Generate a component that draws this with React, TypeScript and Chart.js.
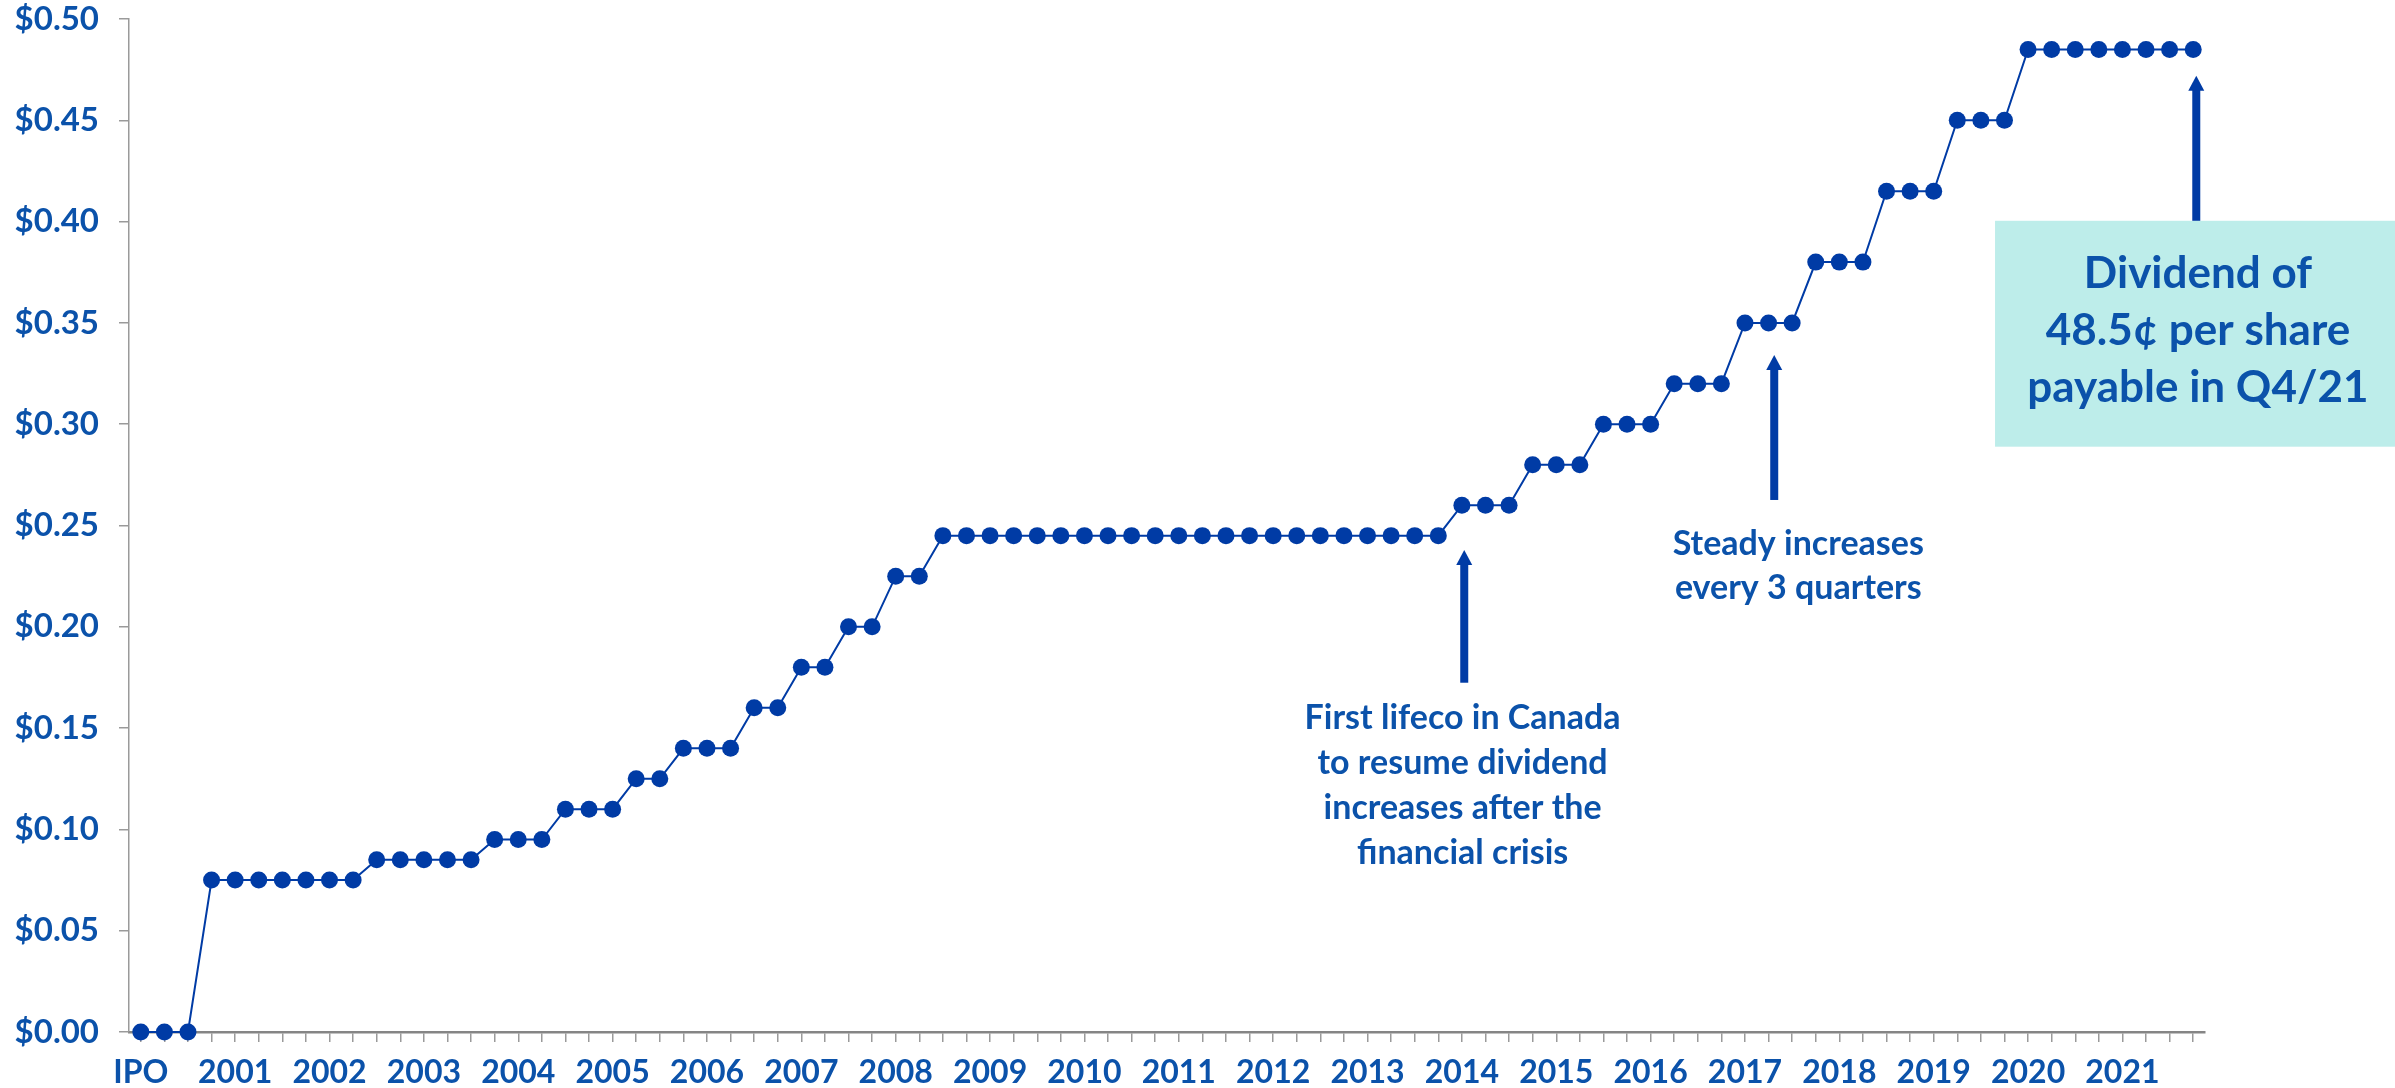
import React, { useEffect, useRef } from "react";
import { Chart, registerables } from "chart.js";

Chart.register(...registerables);

// ---- data ----
const yearLabels = [
  "IPO", "2001", "2002", "2003", "2004", "2005", "2006", "2007", "2008", "2009", "2010",
  "2011", "2012", "2013", "2014", "2015", "2016", "2017", "2018", "2019", "2020", "2021",
];

// quarterly dividend per share (88 quarters)
const dividends = [
  0, 0, 0,
  0.075, 0.075, 0.075, 0.075, 0.075, 0.075, 0.075,
  0.085, 0.085, 0.085, 0.085, 0.085,
  0.095, 0.095, 0.095,
  0.11, 0.11, 0.11,
  0.125, 0.125,
  0.14, 0.14, 0.14,
  0.16, 0.16,
  0.18, 0.18,
  0.2, 0.2,
  0.225, 0.225,
  0.245, 0.245, 0.245, 0.245, 0.245, 0.245, 0.245, 0.245, 0.245, 0.245, 0.245,
  0.245, 0.245, 0.245, 0.245, 0.245, 0.245, 0.245, 0.245, 0.245, 0.245, 0.245,
  0.26, 0.26, 0.26,
  0.28, 0.28, 0.28,
  0.3, 0.3, 0.3,
  0.32, 0.32, 0.32,
  0.35, 0.35, 0.35,
  0.38, 0.38, 0.38,
  0.415, 0.415, 0.415,
  0.45, 0.45, 0.45,
  0.485, 0.485, 0.485, 0.485, 0.485, 0.485, 0.485, 0.485,
];

const categories = dividends.map((_, i) => (i % 4 === 0 ? yearLabels[i / 4] : ""));

const yMin = 0;
const yMax = 0.5;
const yStep = 0.05;

const note1Lines = ["First lifeco in Canada", "to resume dividend", "increases after the", "financial crisis"];
const note2Lines = ["Steady increases", "every 3 quarters"];
const boxLines = ["Dividend of", "48.5¢ per share", "payable in Q4/21"];

// ---- styles ----
const FONT = "Lato, 'Open Sans', sans-serif";
const TEXT_BLUE = "#0B52AA";
const MARK_BLUE = "#003BA5";
const AXIS_GREY = "#9a9a9a";
const BOX_FILL = "#BDEDEA";

function drawArrow(ctx: CanvasRenderingContext2D, x: number, tipY: number, bottomY: number) {
  const headH = 15;
  const headW = 16;
  const shaftW = 8;
  ctx.fillStyle = MARK_BLUE;
  ctx.fillRect(x - shaftW / 2, tipY + headH - 1, shaftW, bottomY - (tipY + headH - 1));
  ctx.beginPath();
  ctx.moveTo(x, tipY);
  ctx.lineTo(x + headW / 2, tipY + headH);
  ctx.lineTo(x - headW / 2, tipY + headH);
  ctx.closePath();
  ctx.fill();
}

const annotationPlugin = {
  id: "annotations",
  afterDraw(chart: any) {
    const { ctx, scales } = chart;
    const x = scales.x;
    const y = scales.y;
    ctx.save();

    // callout box
    const boxLeft = x.getPixelForValue(78.6);
    const boxTop = y.getPixelForValue(0.4004);
    const boxBottom = y.getPixelForValue(0.2889);
    ctx.fillStyle = BOX_FILL;
    ctx.fillRect(boxLeft, boxTop, chart.width - boxLeft, boxBottom - boxTop);

    // arrows
    drawArrow(ctx, x.getPixelForValue(56.1), y.getPixelForValue(0.2379), y.getPixelForValue(0.1724));
    drawArrow(ctx, x.getPixelForValue(69.24), y.getPixelForValue(0.3342), y.getPixelForValue(0.2626));
    drawArrow(ctx, x.getPixelForValue(87.13), y.getPixelForValue(0.472), boxTop);

    ctx.fillStyle = TEXT_BLUE;
    ctx.textAlign = "center";
    ctx.textBaseline = "alphabetic";

    ctx.font = `bold 34px ${FONT}`;
    const n1x = x.getPixelForValue(56.03);
    const n1y = y.getPixelForValue(0.1495);
    note1Lines.forEach((t, i) => ctx.fillText(t, n1x, n1y + i * 45));

    const n2x = x.getPixelForValue(70.26);
    const n2y = y.getPixelForValue(0.2355);
    note2Lines.forEach((t, i) => ctx.fillText(t, n2x, n2y + i * 44));

    ctx.font = `bold 44px ${FONT}`;
    const bx = x.getPixelForValue(87.2);
    const by = y.getPixelForValue(0.3671);
    boxLines.forEach((t, i) => ctx.fillText(t, bx, by + i * 57));

    ctx.restore();
  },
};

export default function App() {
  const canvasRef = useRef<HTMLCanvasElement | null>(null);

  useEffect(() => {
    if (!canvasRef.current) return;
    const chart = new Chart(canvasRef.current, {
      type: "line",
      data: {
        labels: categories,
        datasets: [
          {
            data: dividends,
            borderColor: MARK_BLUE,
            backgroundColor: MARK_BLUE,
            borderWidth: 2,
            pointRadius: 8.5,
            pointBorderWidth: 0,
            pointBackgroundColor: MARK_BLUE,
            pointHoverRadius: 8.5,
            tension: 0,
            clip: false,
          },
        ],
      },
      options: {
        animation: false,
        responsive: false,
        devicePixelRatio: 1,
        layout: { padding: { top: 19, right: 190, left: 0, bottom: 0 } },
        plugins: {
          legend: { display: false },
          tooltip: { enabled: false },
          title: { display: false },
        },
        scales: {
          x: {
            type: "category",
            offset: true,
            grid: {
              display: true,
              drawOnChartArea: false,
              drawTicks: true,
              tickLength: 10,
              color: AXIS_GREY,
              lineWidth: 1.5,
              offset: false,
            },
            border: { display: true, color: "#858585", width: 2.5 },
            ticks: {
              autoSkip: false,
              maxRotation: 0,
              minRotation: 0,
              padding: 11,
              color: TEXT_BLUE,
              font: { family: FONT, size: 32, weight: "bold" },
              callback: (_v: any, i: number) => categories[i],
            },
            afterFit: (s: any) => {
              s.height = 56;
              s.paddingLeft = 0;
              s.paddingRight = 0;
            },
          },
          y: {
            min: yMin,
            max: yMax,
            grid: {
              display: true,
              drawOnChartArea: false,
              drawTicks: true,
              tickLength: 10,
              color: AXIS_GREY,
              lineWidth: 1.5,
            },
            border: { display: true, color: AXIS_GREY, width: 1.5 },
            ticks: {
              stepSize: yStep,
              padding: 20,
              color: TEXT_BLUE,
              font: { family: FONT, size: 33, weight: "bold" },
              callback: (v: any) => "$" + Number(v).toFixed(2),
            },
            afterFit: (s: any) => {
              s.width = 129;
              s.paddingTop = 0;
              s.paddingBottom = 0;
            },
          },
        },
      },
      plugins: [annotationPlugin],
    });
    return () => chart.destroy();
  }, []);

  return (
    <div style={{ position: "absolute", left: 0, top: 0, width: 2395, height: 1088, background: "#fff" }}>
      <canvas ref={canvasRef} width={2395} height={1088} style={{ width: 2395, height: 1088, display: "block" }} />
    </div>
  );
}
